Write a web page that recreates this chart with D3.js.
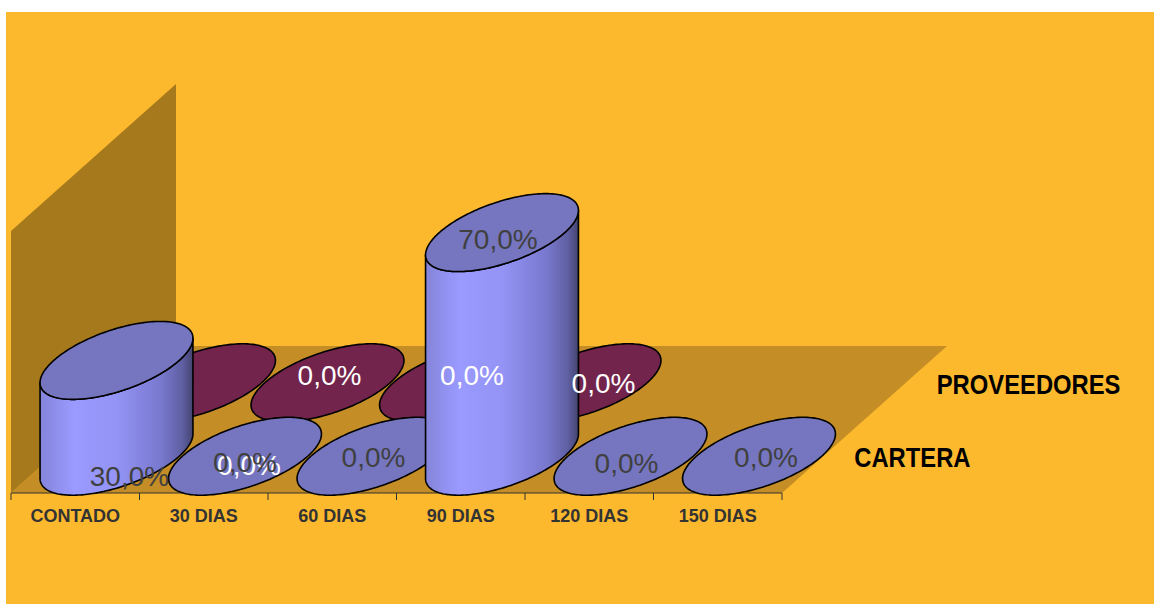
<!DOCTYPE html>
<html>
<head>
<meta charset="utf-8">
<script src="https://cdn.jsdelivr.net/npm/d3@7"></script>
<style>
  html, body { margin: 0; padding: 0; background: #ffffff; }
  svg { display: block; }
</style>
</head>
<body>
<svg id="chart" width="1154" height="605"></svg>
<script>
// ---------- data ----------
const categories = ["CONTADO", "30 DIAS", "60 DIAS", "90 DIAS", "120 DIAS", "150 DIAS"];
const seriesNames = ["CARTERA", "PROVEEDORES"];
const carteraValues = [0.30, 0.00, 0.00, 0.70, 0.00, 0.00];
const proveedoresValues = [0.00, 0.00, 0.00, 0.00, null, null];
const valueMax = 0.82;

// label nudges (layout only)
const carteraLabelNudge = [[13, 116], [0, 6], [0, 1], [-4, 6], [-4, 7], [7, 1]];
const proveedoresLabelNudge = [[50, 82], [2, -8], [16, -8], [19, 0], [0, 0], [0, 0]];

// ---------- layout ----------
const svg = d3.select("#chart");
const W = 1154, H = 605;
const floorY = 493;          // front edge of floor
const depthVec = [165, -147]; // offset of back edge
const wallH = 262;

const x = d3.scaleBand().domain(categories).range([11, 782]).padding(0);
const z = d3.scaleBand().domain(seriesNames).range([0, 1]).padding(0); // CARTERA front
const y = d3.scaleLinear().domain([0, valueMax]).range([0, wallH]);

// projection: front-x pixel, depth fraction, height px
function P(px, dz, h) {
  return [px + depthVec[0] * dz, floorY + depthVec[1] * dz - h];
}

// background
svg.append("rect").attr("x", 6).attr("y", 12).attr("width", W - 6).attr("height", H - 13)
  .attr("fill", "#FDB92D");

// left wall
const x0 = x.range()[0], x1 = x.range()[1];
svg.append("path")
  .attr("d", d3.line()([P(x0, 0, 0), P(x0, 1, 0), P(x0, 1, wallH), P(x0, 0, wallH)]) + "Z")
  .attr("fill", "#A67A1C");
// floor
svg.append("path")
  .attr("d", d3.line()([P(x0, 0, 0), P(x0, 1, 0), P(x1, 1, 0), P(x1, 0, 0)]) + "Z")
  .attr("fill", "#C48D25");

// axis
const axisG = svg.append("g").attr("transform", `translate(0,${floorY})`);
const axis = d3.axisBottom(x).tickSize(0).tickPadding(0);
axisG.call(axis);
axisG.select(".domain").attr("stroke", "#333").attr("stroke-width", 1)
  .attr("d", `M${x0},0H${x1}`);
axisG.selectAll(".tick text").remove();
// tick marks at band boundaries
const bounds = categories.map(c => x(c)).concat([x1]);
axisG.selectAll("line.bnd").data(bounds).enter().append("line")
  .attr("class", "bnd")
  .attr("x1", d => d).attr("x2", d => d).attr("y1", 0).attr("y2", 7)
  .attr("stroke", "#333").attr("stroke-width", 1);
axisG.selectAll("text.cat").data(categories).enter().append("text")
  .attr("class", "cat")
  .attr("x", d => x(d) + x.bandwidth() / 2)
  .attr("y", 29)
  .attr("text-anchor", "middle")
  .attr("font-family", "'Liberation Sans', Arial, sans-serif")
  .attr("font-weight", "bold")
  .attr("font-size", 18)
  .attr("fill", "#333333")
  .text(d => d);

// ---------- cylinders ----------
const R = x.bandwidth() * 0.488; // radius along x (px)
const Rz = 0.265;                // radius along depth (fraction)
const k = Rz * depthVec[0] / R;
const tRight = Math.atan(k);

function ellipsePts(cx, cz, h, t0, t1, n) {
  const pts = [];
  for (let i = 0; i <= n; i++) {
    const t = t0 + (t1 - t0) * i / n;
    pts.push(P(cx + R * Math.cos(t), cz + Rz * Math.sin(t), h));
  }
  return pts;
}

const defs = svg.append("defs");
const grad = defs.append("linearGradient").attr("id", "bodyGrad")
  .attr("x1", 0).attr("x2", 1).attr("y1", 0).attr("y2", 0);
[[0, "#8484DA"], [0.22, "#9A9AFF"], [0.5, "#9494F6"], [0.8, "#7777CC"], [0.93, "#5F5FA3"], [1, "#44446F"]]
  .forEach(([o, c]) => grad.append("stop").attr("offset", o).attr("stop-color", c));

const series = [
  { name: "PROVEEDORES", values: proveedoresValues, top: "#73244C", body: "#73244C", label: "#FFFFFF", nudge: proveedoresLabelNudge },
  { name: "CARTERA", values: carteraValues, top: "#7676C0", body: "url(#bodyGrad)", label: "#404040", nudge: carteraLabelNudge }
];

const line = d3.line();
const marks = svg.append("g");
series.forEach(s => {
  const cz = z(s.name) + z.bandwidth() / 2;
  const g = marks.append("g").attr("class", "series-" + s.name);
  categories.forEach((c, i) => {
    const v = s.values[i];
    if (v === null || v === undefined) return;
    const cx = x(c) + x.bandwidth() / 2;
    const h = y(v);
    if (h > 0.5) {
      const bottomArc = ellipsePts(cx, cz, 0, tRight + Math.PI, tRight + 2 * Math.PI, 120);
      const topArc = ellipsePts(cx, cz, h, tRight + 2 * Math.PI, tRight + Math.PI, 120);
      g.append("path")
        .attr("d", line(bottomArc.concat(topArc)) + "Z")
        .attr("fill", s.body)
        .attr("stroke", "#000").attr("stroke-width", 1.6).attr("stroke-linejoin", "round");
    }
    g.append("path")
      .attr("d", line(ellipsePts(cx, cz, h, 0, 2 * Math.PI, 180)) + "Z")
      .attr("fill", s.top)
      .attr("stroke", "#000").attr("stroke-width", 1.6);
  });
});

// ---------- data labels ----------
const fmt = v => d3.format(".1%")(v).replace(".", ",");
const labelsG = svg.append("g");
series.forEach(s => {
  const cz = z(s.name) + z.bandwidth() / 2;
  categories.forEach((c, i) => {
    const v = s.values[i];
    if (v === null || v === undefined) return;
    const cx = x(c) + x.bandwidth() / 2;
    const p = P(cx, cz, y(v));
    labelsG.append("text")
      .attr("x", p[0] + s.nudge[i][0])
      .attr("y", p[1] + s.nudge[i][1])
      .attr("dy", "0.36em")
      .attr("text-anchor", "middle")
      .attr("font-family", "'Liberation Sans', Arial, sans-serif")
      .attr("font-size", 28)
      .attr("fill", s.label)
      .text(fmt(v));
  });
});

// ---------- series (depth) labels, narrow bold ----------
svg.append("g").selectAll("text").data(seriesNames).enter().append("text")
  .attr("transform", d => {
    const p = P(x1, z(d) + z.bandwidth() / 2, 0);
    return `translate(${p[0] + 31},${p[1] + 11}) scale(0.85,1)`;
  })
  .attr("font-family", "'Liberation Sans', Arial, sans-serif")
  .attr("font-weight", "bold")
  .attr("font-size", 28)
  .attr("fill", "#000")
  .text(d => d);
</script>
</body>
</html>
